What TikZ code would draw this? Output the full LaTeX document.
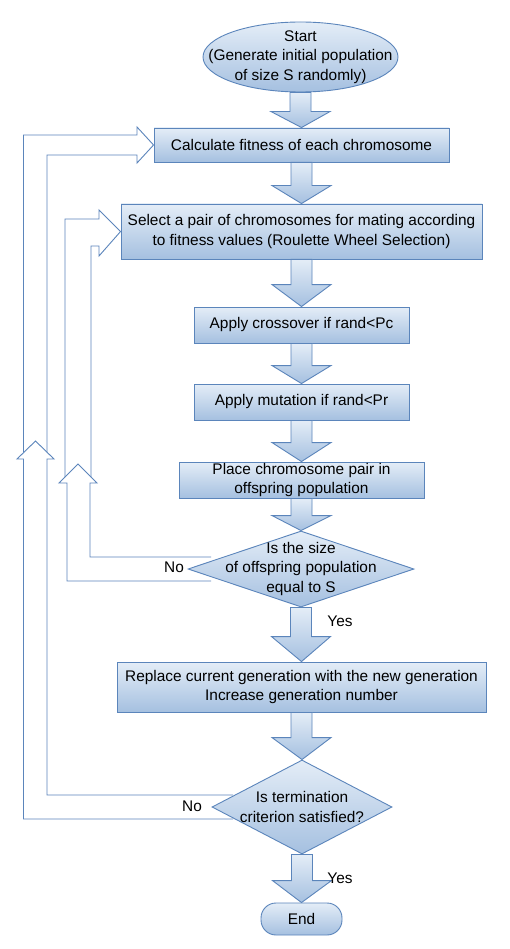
\documentclass[tikz,border=0pt]{standalone}
\usepackage{fontspec}
\setmainfont{Liberation Sans}
\usetikzlibrary{shapes.geometric,calc}
\definecolor{bord}{HTML}{5B85BB}
\definecolor{topc}{HTML}{E4EDF7}
\definecolor{botc}{HTML}{A5C0E0}
\tikzset{
  shadedbox/.style={draw=bord, line width=0.9pt, top color=topc, bottom color=botc},
  procbox/.style={shadedbox, rectangle, inner sep=0pt},
  decbox/.style={shadedbox, diamond, inner sep=0pt},
  termbox/.style={shadedbox, ellipse, inner sep=0pt},
  txt/.style={font=\fontsize{15.4}{19.5}\selectfont, align=center, inner sep=0pt, text=black},
  barrowstyle/.style={draw=bord, line width=0.9pt, shading angle=0, top color=topc, bottom color=botc},
  loopline/.style={draw=bord, line width=0.9pt, line join=miter}
}
% block arrow from south of #1 to north of #2, head length #3
\newcommand\blockarrow[3]{%
  \path[barrowstyle] let \p1=(#1.south), \p2=(#2.north) in
    (\x1-10.5pt,\y1) -- (\x1-10.5pt,\y2+#3) -- (\x1-29.5pt,\y2+#3) -- (\x2,\y2)
    -- (\x1+29.5pt,\y2+#3) -- (\x1+10.5pt,\y2+#3) -- (\x1+10.5pt,\y1) -- cycle;}
\begin{document}
\begin{tikzpicture}[x=1pt,y=-1pt]
\useasboundingbox (0,0) rectangle (509,949);
\fill[white] (0,0) rectangle (509,949);

% nodes
\node[termbox, minimum width=195pt, minimum height=70pt] (start) at (300.5,57) {};
\node[txt] (starttxt) at (start.center) {Start\\(Generate initial population\\of size S randomly)};

\node[procbox, minimum width=295pt, minimum height=34pt] (calc) at (301.5,145) {};
\node[txt] at (calc.center) {Calculate fitness of each chromosome};

\node[procbox, minimum width=361pt, minimum height=55pt] (select) at (301.5,231.5) {};
\node[txt] at (select.center) {Select a pair of chromosomes for mating according\\to fitness values (Roulette Wheel Selection)};

\node[procbox, minimum width=215pt, minimum height=36pt] (cross) at (301.5,325) {};
\node[txt] at (cross.center) {Apply crossover if rand<Pc};

\node[procbox, minimum width=215pt, minimum height=36pt] (mut) at (301.5,402) {};
\node[txt] at (mut.center) {Apply mutation if rand<Pr};

\node[procbox, minimum width=245pt, minimum height=36pt] (place) at (301.5,480) {};
\node[txt] at (place.center) {Place chromosome pair in\\offspring population};

\node[decbox, minimum width=226pt, minimum height=76pt] (d1) at (301,569) {};
\node[txt] at (d1.center) {Is the size\\of offspring population\\equal to S};

\node[procbox, minimum width=369pt, minimum height=50pt] (repl) at (301.5,687) {};
\node[txt] at (repl.center) {Replace current generation with the new generation\\Increase generation number};

\node[decbox, minimum width=180pt, minimum height=94pt] (d2) at (302,807) {};
\node[txt] at (d2.center) {Is termination\\criterion satisfied?};

\node[procbox, rounded corners=15pt, minimum width=81pt, minimum height=32pt] (end) at (301.5,919) {};
\node[txt] at (end.center) {End};

% block arrows
\blockarrow{start}{calc}{16pt}
\blockarrow{calc}{select}{18pt}
\blockarrow{select}{cross}{22pt}
\blockarrow{cross}{mut}{18pt}
\blockarrow{mut}{place}{19pt}
\blockarrow{place}{d1}{15pt}
\blockarrow{d1}{repl}{25pt}
\blockarrow{repl}{d2}{22pt}
\blockarrow{d2}{end}{22pt}

% labels
\node[txt] (yes1) at (340,621) {Yes};
\node[txt] (yes2) at (340,878) {Yes};
\node[txt] (no1) at (174,567) {No};
\node[txt] (no2) at (192,806) {No};

% loop 1 (termination -> calculate fitness)
\coordinate (t1) at (calc.west);
\draw[loopline] (233,819) -- (23.5,819) -- (23.5,459) -- (17,459) -- (35.5,441)
  -- (54,459) -- (47,459) -- (47,795) -- (233,795);
\draw[loopline] (23.5,452) -- (23.5,135) -- (137,135) -- (137,127) -- (t1)
  -- (137,163) -- (137,155) -- (47,155) -- (47,452);

% loop 2 (size check -> select)
\coordinate (t2) at (select.west);
\draw[loopline] (211,581) -- (67,581) -- (67,483) -- (59,483) -- (78,464)
  -- (97,483) -- (90,483) -- (90,557) -- (211,557);
\draw[loopline] (65,477) -- (65,219) -- (99,219) -- (99,210) -- (t2)
  -- (99,256) -- (99,246) -- (91,246) -- (91,477);
\end{tikzpicture}
\end{document}
